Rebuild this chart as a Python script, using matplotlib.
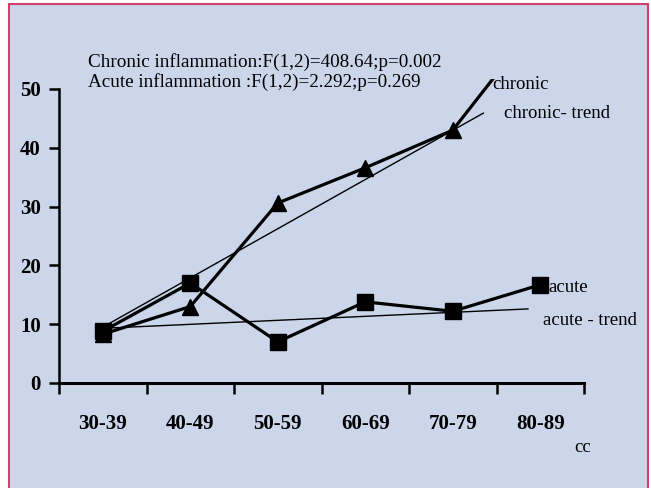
import matplotlib
matplotlib.use("Agg")
import matplotlib.pyplot as plt
from matplotlib.patches import Rectangle
from matplotlib.ticker import FixedLocator

# Age groups and inflammation percentages
age_groups = ["30-39", "40-49", "50-59", "60-69", "70-79", "80-89"]
chronic = [8.3, 13.0, 30.6, 36.6, 43.0, 62.0]
acute = [8.8, 17.0, 7.0, 13.8, 12.2, 16.7]

# Linear trend lines (start / end on the age-group axis)
chronic_trend_x = [0.0, 4.35]
chronic_trend_y = [9.5, 45.9]
acute_trend_x = [0.0, 4.86]
acute_trend_y = [9.3, 12.6]

y_ticks = [0, 10, 20, 30, 40, 50]

W, H = 651, 488
fig = plt.figure(figsize=(W / 100, H / 100), dpi=100)
fig.patch.set_facecolor("white")

BG = "#cbd6eb"
FRAME = "#d2406c"
fig.patches.append(Rectangle((9 / W, -0.02), (648 - 9) / W, 1 - 4 / H + 0.02,
                             transform=fig.transFigure, facecolor=BG,
                             edgecolor=FRAME, linewidth=1.5, zorder=-10))

serif = "Liberation Serif"

ax = fig.add_axes([59 / W, 1 - 383 / H, 525 / W, 304 / H])
ax.set_zorder(2)
ax.set_facecolor("none")
x = list(range(len(age_groups)))

ax.plot(x, chronic, color="black", lw=2.3, marker="^", ms=11, zorder=4)
ax.plot(x, acute, color="black", lw=2.3, marker="s", ms=11.5, zorder=5)
ax.plot(chronic_trend_x, chronic_trend_y, color="black", lw=1.0, zorder=3)
ax.plot(acute_trend_x, acute_trend_y, color="black", lw=1.0, zorder=3)

ax.set_xlim(-0.5, len(age_groups) - 0.5)
ax.set_ylim(0, 51.7)

for s in ["top", "right"]:
    ax.spines[s].set_visible(False)
ax.spines["left"].set_bounds(0, 50)
ax.spines["left"].set_linewidth(1.8)
ax.spines["bottom"].set_linewidth(2.2)

ax.set_yticks(y_ticks)
ax.set_yticklabels([str(v) for v in y_ticks], fontfamily=serif,
                   fontweight="bold", fontsize=15)
ax.tick_params(axis="y", direction="out", length=7, width=1.8, pad=6)

ax.set_xticks(x)
ax.set_xticklabels(age_groups, fontfamily=serif, fontweight="bold", fontsize=15)
ax.xaxis.set_minor_locator(FixedLocator([i - 0.5 for i in range(len(age_groups) + 1)]))
ax.tick_params(axis="x", which="major", length=0, pad=22)
ax.tick_params(axis="x", which="minor", direction="out", length=8, width=1.8)

ax.text(4.45, 50.8, "chronic", fontfamily=serif, fontsize=13.5, va="center", ha="left")
ax.text(4.58, 45.9, "chronic- trend", fontfamily=serif, fontsize=13.5, va="center", ha="left")
ax.text(5.09, 16.3, "acute", fontfamily=serif, fontsize=13.5, va="center", ha="left")
ax.text(5.03, 10.7, "acute - trend", fontfamily=serif, fontsize=13.5, va="center", ha="left")

fig.text(88 / W, 1 - 67 / H, "Chronic inflammation:F(1,2)=408.64;p=0.002",
         fontfamily=serif, fontsize=13.8, va="baseline", ha="left")
fig.text(88 / W, 1 - 87 / H, "Acute inflammation :F(1,2)=2.292;p=0.269",
         fontfamily=serif, fontsize=13.8, va="baseline", ha="left")
fig.text(583 / W, 1 - 447 / H, "cc", fontfamily=serif, fontsize=13.5,
         va="center", ha="center")

fig.savefig("out.png", dpi=100)
